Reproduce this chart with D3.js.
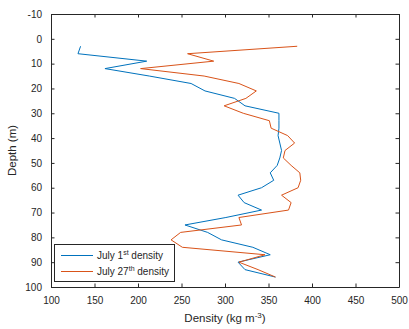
<!DOCTYPE html>
<html>
<head>
<meta charset="utf-8">
<script src="https://cdn.jsdelivr.net/npm/d3@7"></script>
<style>
  body { margin: 0; background: #fff; }
  text { font-family: "Liberation Sans", Arial, Helvetica, sans-serif; fill: #262626; }
</style>
</head>
<body>
<div id="chart"></div>
<script>
// sampling depths (m)
const depths = [3, 6, 9, 12, 15, 18, 21, 24, 27, 30, 33, 36, 39, 42, 45, 48,
  51, 54, 57, 60, 63, 66, 69, 72, 75, 78, 81, 84, 87, 90, 93, 96];
// density (kg m-3)
const july1 = [134, 131, 210, 162, 213, 261, 277, 311, 323, 362, 362, 362, 361, 363, 365, 363,
  360, 352, 356, 342, 315, 322, 342, 301, 254, 280, 296, 332, 352, 315, 323, 358];
const july27 = [383, 257, 287, 203, 276, 316, 336, 324, 299, 321, 351, 353, 372, 380, 369, 367,
  376, 386, 387, 384, 365, 376, 373, 316, 319, 249, 238, 251, 346, 316, 338, 358];
const xTicks = [100, 150, 200, 250, 300, 350, 400, 450, 500];
const yTicks = [-10, 0, 10, 20, 30, 40, 50, 60, 70, 80, 90, 100];
const seriesNames = ['July 1', 'July 27'];
const seriesSup = ['st', 'th'];
const colors = ['#0072BD', '#D95319'];

const width = 409, height = 329;
const margin = { top: 14, right: 10, bottom: 42, left: 51 };
const axisColor = '#262626';

const svg = d3.select('#chart')
  .append('svg')
  .attr('width', width)
  .attr('height', height);

const x = d3.scaleLinear().domain([100, 500]).range([margin.left, width - margin.right]);
const y = d3.scaleLinear().domain([-10, 100]).range([margin.top, height - margin.bottom]);

const tickLen = 3.5;
const fmt = d => String(d); // plain hyphen minus like matlab

// *** axes (box with mirrored inward ticks) *** //
const xAxisB = d3.axisBottom(x).tickValues(xTicks).tickFormat(fmt).tickSizeInner(-tickLen).tickSizeOuter(0).tickPadding(10);
const xAxisT = d3.axisTop(x).tickValues(xTicks).tickSizeInner(-tickLen).tickSizeOuter(0).tickFormat('');
const yAxisL = d3.axisLeft(y).tickValues(yTicks).tickFormat(fmt).tickSizeInner(-tickLen).tickSizeOuter(0).tickPadding(9);
const yAxisR = d3.axisRight(y).tickValues(yTicks).tickSizeInner(-tickLen).tickSizeOuter(0).tickFormat('');

const gxb = svg.append('g').attr('transform', `translate(0,${y(100)})`).call(xAxisB);
const gxt = svg.append('g').attr('transform', `translate(0,${y(-10)})`).call(xAxisT);
const gyl = svg.append('g').attr('transform', `translate(${x(100)},0)`).call(yAxisL);
const gyr = svg.append('g').attr('transform', `translate(${x(500)},0)`).call(yAxisR);

[gxb, gxt, gyl, gyr].forEach(g => {
  g.selectAll('path.domain').attr('stroke', axisColor).attr('stroke-width', 1);
  g.selectAll('.tick line').attr('stroke', axisColor).attr('stroke-width', 1);
  g.selectAll('.tick text')
    .attr('fill', axisColor)
    .style('font-family', '"Liberation Sans", Arial, sans-serif')
    .style('font-size', '10px');
});

// *** data lines *** //
const line = d3.line()
  .x(d => x(d[0]))
  .y(d => y(d[1]));

[july1, july27].forEach((vals, i) => {
  svg.append('path')
    .datum(vals.map((v, j) => [v, depths[j]]))
    .attr('fill', 'none')
    .attr('stroke', colors[i])
    .attr('stroke-width', 1)
    .attr('stroke-linejoin', 'round')
    .attr('d', line);
});

// *** axis labels *** //
const xl = svg.append('text')
  .attr('x', (x(100) + x(500)) / 2)
  .attr('y', 322)
  .attr('text-anchor', 'middle')
  .style('font-size', '11.5px');
xl.append('tspan').text('Density (kg m');
xl.append('tspan').attr('dy', -4.5).style('font-size', '8px').text('-3');
xl.append('tspan').attr('dy', 4.5).text(')');

svg.append('text')
  .attr('transform', `translate(16,${(y(-10) + y(100)) / 2}) rotate(-90)`)
  .attr('text-anchor', 'middle')
  .style('font-size', '11.5px')
  .text('Depth (m)');

// *** legend *** //
const leg = svg.append('g');
leg.append('rect')
  .attr('x', 54.5).attr('y', 244.5)
  .attr('width', 120).attr('height', 37)
  .attr('fill', '#fff')
  .attr('stroke', axisColor)
  .attr('stroke-width', 1);

seriesNames.forEach((name, i) => {
  const ly = 255.5 + i * 16;
  leg.append('line')
    .attr('x1', 61).attr('x2', 93)
    .attr('y1', ly).attr('y2', ly)
    .attr('stroke', colors[i])
    .attr('stroke-width', 1);
  const t = leg.append('text')
    .attr('x', 97)
    .attr('y', ly + 3.5)
    .style('font-size', '10px');
  t.append('tspan').text(name);
  t.append('tspan').attr('dy', -4).style('font-size', '7px').text(seriesSup[i]);
  t.append('tspan').attr('dy', 4).text(' density');
});
</script>
</body>
</html>
